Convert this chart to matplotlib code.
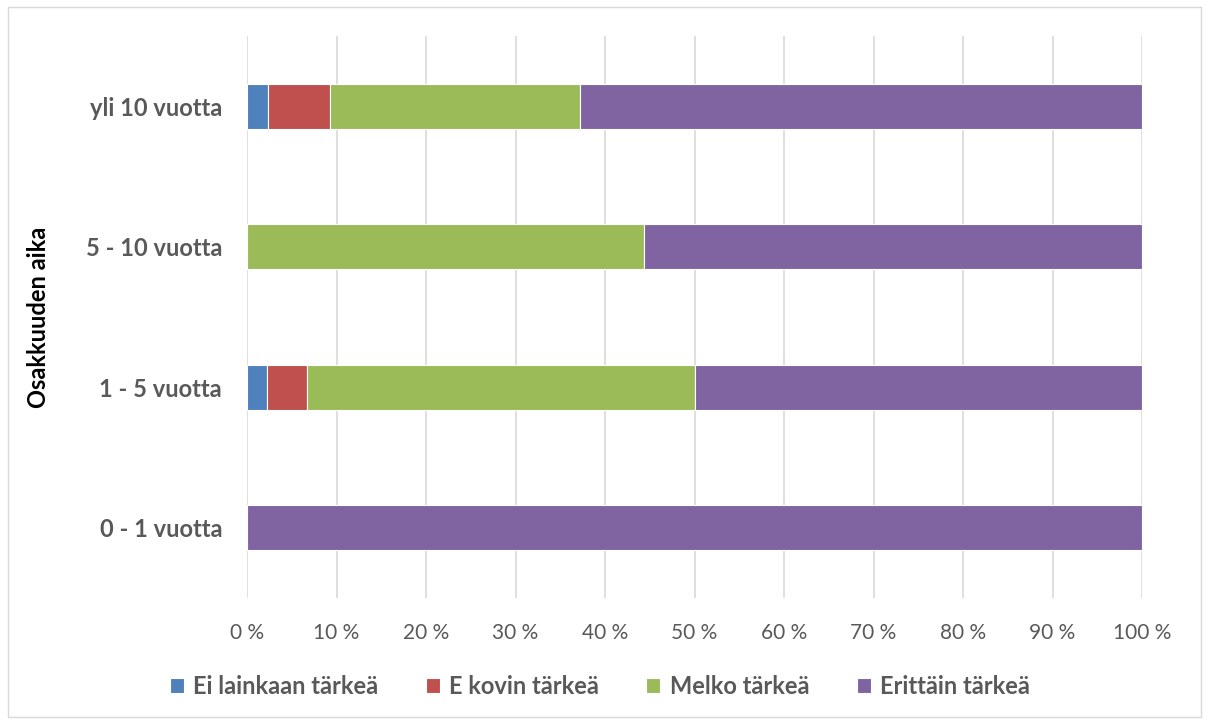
import matplotlib.pyplot as plt
from matplotlib.patches import Rectangle
import numpy as np

plt.rcParams['font.family'] = ['Lato', 'DejaVu Sans']

categories = ['0 - 1 vuotta', '1 - 5 vuotta', '5 - 10 vuotta', 'yli 10 vuotta']
series_names = ['Ei lainkaan tärkeä', 'E kovin tärkeä', 'Melko tärkeä', 'Erittäin tärkeä']
ei_lainkaan = [0.0, 2.2, 0.0, 2.3]
e_kovin = [0.0, 4.5, 0.0, 7.0]
melko = [0.0, 43.3, 44.4, 27.9]
erittain = [100.0, 50.0, 55.6, 62.8]
colors = ['#4F81BD', '#C0504D', '#9BBB59', '#8064A2']
xticks = [0, 10, 20, 30, 40, 50, 60, 70, 80, 90, 100]
xtick_labels = [f'{v} %' for v in xticks]

fig = plt.figure(figsize=(12.07, 7.2), dpi=100)
ax = fig.add_axes([247 / 1207, 1 - 598 / 720, (1142 - 247) / 1207, (598 - 36) / 720])

y = np.arange(len(categories))
left = np.zeros(len(categories))
handles = []
for name, vals, col in zip(series_names, [ei_lainkaan, e_kovin, melko, erittain], colors):
    b = ax.barh(y, vals, left=left, height=0.32, color=col, edgecolor='white',
                linewidth=0.8, label=name, zorder=3)
    handles.append(b)
    left = left + np.array(vals)

ax.set_xlim(0, 100)
ax.set_ylim(-0.5, 3.5)
ax.set_xticks(xticks)
ax.set_xticklabels(xtick_labels, fontsize=15, color='#595959')
ax.set_yticks(y)
ax.set_yticklabels(categories, fontsize=17, fontweight='bold', color='#595959')
ax.tick_params(axis='both', length=0)
ax.tick_params(axis='x', pad=18)
ax.tick_params(axis='y', pad=18)
ax.grid(axis='x', color='#D9D9D9', linewidth=1.2, zorder=0)
for s in ax.spines.values():
    s.set_visible(False)

ax.set_ylabel('Osakkuuden aika', fontsize=17, fontweight='bold', color='black')
ax.yaxis.set_label_coords(-0.22, 0.5)

fig.legend(handles=handles, labels=series_names, loc='center', ncol=4,
           bbox_to_anchor=(0.497, 1 - 686 / 720), frameon=False,
           prop={'size': 17, 'weight': 'bold'}, labelcolor='#595959',
           handlelength=0.6, handleheight=0.6, handletextpad=0.4, columnspacing=2.0)

fig.patches.append(Rectangle((8 / 1207, 3 / 720), (1201 - 8) / 1207, (713 - 3) / 720,
                             transform=fig.transFigure, fill=False,
                             edgecolor='#D9D9D9', linewidth=1))

fig.savefig('out.png', dpi=100)
